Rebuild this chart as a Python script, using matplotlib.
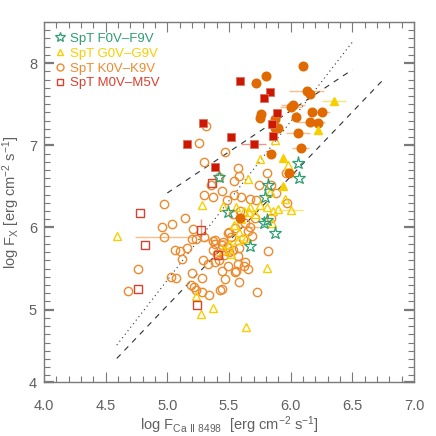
import matplotlib
matplotlib.use("Agg")
import matplotlib.pyplot as plt
import numpy as np
from matplotlib.ticker import MultipleLocator, FixedLocator, FixedFormatter
from matplotlib.lines import Line2D

plt.rcParams['font.family'] = ['Liberation Sans', 'DejaVu Sans']
plt.rcParams['mathtext.default'] = 'regular'

# ---------------- data ----------------
# F stars (open stars)
f_x = [6.06, 6.07, 5.42, 5.82, 5.79, 5.49, 5.78, 5.87, 5.67, 5.81]
f_y = [6.78, 6.60, 6.61, 6.52, 6.37, 6.19, 6.05, 5.93, 5.77, 6.09]

# G stars filled / open triangles
g_fill_x = [6.35, 6.22, 5.94, 5.94]
g_fill_y = [7.54, 7.18, 6.85, 6.51]
g_fill_xerr = [0.10, 0.0, 0.0, 0.0]
g_open_x = [5.87, 5.75, 5.98, 5.65, 5.83, 5.95, 5.56, 5.67, 5.75, 5.81, 5.90, 6.00,
            5.66, 5.86, 5.85, 5.28, 5.45, 5.81, 5.64, 5.54, 4.59, 5.23, 5.27, 5.37,
            5.64, 5.50, 5.57, 5.45, 5.60, 5.71, 5.62, 5.52, 5.58]
g_open_y = [7.06, 6.83, 6.76, 6.59, 6.43, 6.35, 6.25, 6.25, 6.27, 6.25, 6.22, 6.21,
            6.19, 6.20, 6.05, 6.27, 6.26, 5.51, 5.87, 6.03, 5.90, 5.17, 4.95, 5.02,
            4.79, 5.80, 5.85, 5.72, 6.10, 6.17, 6.20, 5.68, 5.95]
g_open_xerr = [0.0, 0.0, 0.0, 0.0, 0.0, 0.0, 0.0, 0.0, 0.0, 0.0, 0.0, 0.10,
               0.0, 0.0, 0.0, 0.0, 0.0, 0.0, 0.0, 0.0, 0.0, 0.0, 0.0, 0.0,
               0.0, 0.10, 0.08, 0.0, 0.0, 0.0, 0.0, 0.0, 0.0]

# K stars filled / open circles
k_fill_x = [6.10, 5.80, 5.72, 6.13, 6.16, 6.02, 6.00, 6.17, 6.25, 5.76, 5.75, 6.04,
            5.87, 6.16, 6.22, 5.87, 5.90, 6.06, 6.08, 5.84, 5.99, 5.59]
k_fill_y = [7.96, 7.84, 7.76, 7.66, 7.62, 7.49, 7.46, 7.40, 7.40, 7.38, 7.33, 7.34,
            7.32, 7.28, 7.27, 7.21, 7.21, 7.15, 6.97, 6.90, 6.66, 6.12]
k_fill_xerr = [0.0, 0.0, 0.0, 0.14, 0.0, 0.10, 0.09, 0.0, 0.07, 0.0, 0.0, 0.0,
               0.0, 0.12, 0.0, 0.0, 0.0, 0.10, 0.07, 0.0, 0.05, 0.0]
k_open_x = [5.26, 5.31, 5.47, 5.30, 5.57, 5.58, 5.54, 5.81, 5.96, 5.74, 5.84, 5.42,
            5.54, 4.97, 5.14, 5.04, 4.96, 5.21, 4.97, 5.20, 5.23, 5.30, 5.37, 5.39,
            5.16, 5.06, 5.10, 5.12, 5.37, 5.44, 5.42, 4.76, 5.44, 5.47, 5.55, 5.20,
            5.28, 5.03, 5.07, 5.19, 5.22, 5.23, 5.28, 5.34, 5.44, 4.68, 5.57, 5.30,
            5.60, 5.67, 5.72, 5.48, 5.37, 5.71, 5.84, 5.63, 5.67, 5.49, 5.52, 5.61,
            5.39, 5.58, 5.82, 5.39, 5.62, 5.56, 5.43, 5.73, 5.45, 5.48, 5.50, 5.53,
            5.46, 5.40, 5.50, 5.55, 5.65, 5.69, 5.59, 5.53, 5.88, 5.97, 5.35, 5.44,
            5.63, 5.65, 5.57, 5.29, 5.33, 5.58, 5.49]
k_open_y = [7.03, 7.24, 6.92, 6.80, 6.72, 6.63, 6.56, 6.66, 6.66, 6.52, 6.52, 6.61,
            6.39, 6.28, 6.12, 6.04, 6.01, 5.98, 5.88, 5.86, 5.86, 5.88, 5.84, 5.80,
            5.75, 5.73, 5.71, 5.62, 5.73, 5.79, 5.60, 5.49, 5.47, 5.37, 5.46, 5.45,
            5.39, 5.40, 5.39, 5.30, 5.28, 5.24, 5.21, 5.18, 5.25, 5.23, 5.65, 6.39,
            6.37, 6.35, 6.34, 6.33, 6.37, 6.12, 6.12, 6.05, 6.01, 5.93, 5.89, 5.86,
            5.85, 5.75, 5.71, 5.58, 5.53, 5.47, 5.24, 5.21, 5.82, 5.76, 5.70, 5.72,
            5.66, 5.68, 5.95, 5.99, 5.96, 5.90, 6.20, 6.16, 6.42, 6.30, 6.52, 6.44,
            5.58, 5.50, 5.55, 5.60, 5.55, 5.34, 5.53]
k_open_xerr = [0.0] * len(k_open_x)
k_open_xerr[18] = 0.23
k_open_xerr[56] = 0.08
k_open_xerr[60] = 0.09
k_open_xerr[72] = 0.08

# M stars filled / open squares
m_fill_x = [5.59, 5.835, 5.78, 5.89, 5.85, 5.29, 5.52, 5.86, 5.70, 5.16, 5.39]
m_fill_y = [7.78, 7.65, 7.57, 7.39, 7.26, 7.27, 7.10, 7.11, 7.01, 7.02, 6.74]
m_fill_xerr = [0.0, 0.0, 0.0, 0.0, 0.0, 0.0, 0.0, 0.0, 0.10, 0.0, 0.0]
m_open_x = [5.36, 4.78, 5.27, 4.82, 5.41, 4.76, 5.24]
m_open_y = [6.54, 6.18, 5.97, 5.79, 5.67, 5.25, 5.06]
m_open_yerr = [0.0, 0.0, 0.13, 0.0, 0.0, 0.0, 0.0]

# relations (slope, intercept, x-range)
dot_fit = (1.93, -4.29, 4.59, 6.50)
dash_up = (1.00, 1.42, 5.00, 6.50)
dash_lo = (1.57, -2.80, 4.59, 6.75)

legend_labels = ['SpT F0V–F9V', 'SpT G0V–G9V', 'SpT K0V–K9V', 'SpT M0V–M5V']

# ---------------- style ----------------
c_f = '#2f9e72'
c_g = '#f7cf00'
c_k_fill = '#e06a00'
c_k_open = '#ee8a2e'
c_m_fill = '#cc1800'
c_m_open = '#d9402e'
grey = '#7a7a7a'
txt = '#606060'

fig = plt.figure(figsize=(4.36, 4.36), dpi=100)
ax = fig.add_axes([44/436, 1-382/436, 370/436, 360/436])

# relation lines
for (s, b, x0, x1), ls in [(dot_fit, (0, (1, 3))), (dash_up, (0, (5, 5))), (dash_lo, (0, (5, 5)))]:
    xx = np.array([x0, x1])
    ax.plot(xx, s * xx + b, color='#303030', lw=0.8, linestyle=ls, zorder=1)

ekw = dict(elinewidth=1.0, capsize=0, linestyle='none', zorder=2)

def plot_set(x, y, marker, ms, fc, ec, ecol, xerr=None, yerr=None, mew=1.0, z=3):
    if xerr is not None or yerr is not None:
        ax.errorbar(x, y, xerr=xerr, yerr=yerr, fmt='none', ecolor=ecol, alpha=0.55, **ekw)
    ax.plot(x, y, linestyle='none', marker=marker, ms=ms, mfc=fc, mec=ec, mew=mew, zorder=z)

plot_set(k_open_x, k_open_y, 'o', 6.0, 'none', c_k_open, c_k_open, xerr=k_open_xerr, z=3)
plot_set(g_open_x, g_open_y, '^', 6.4, 'none', c_g, c_g, xerr=g_open_xerr, z=3)
plot_set(m_open_x, m_open_y, 's', 5.4, 'none', c_m_open, c_m_open, yerr=m_open_yerr, z=3)
plot_set(f_x, f_y, '*', 9.5, 'none', c_f, c_f, mew=0.9, z=4)
plot_set(k_fill_x, k_fill_y, 'o', 6.2, c_k_fill, c_k_fill, c_k_open, xerr=k_fill_xerr, z=5)
plot_set(g_fill_x, g_fill_y, '^', 6.4, c_g, c_g, c_g, xerr=g_fill_xerr, z=5)
plot_set(m_fill_x, m_fill_y, 's', 5.6, c_m_fill, '#e07060', c_m_open, xerr=m_fill_xerr, mew=0.6, z=6)

ax.set_xlim(4.0, 7.0)
ax.set_ylim(4.12, 8.5)

ax.xaxis.set_major_locator(MultipleLocator(0.5))
ax.xaxis.set_minor_locator(MultipleLocator(0.1))
ax.xaxis.set_major_formatter(plt.FuncFormatter(lambda v, p: f'{v:.1f}'))
ax.yaxis.set_major_locator(FixedLocator([4.12, 5, 6, 7, 8]))
ax.yaxis.set_major_formatter(FixedFormatter(['4', '5', '6', '7', '8']))
ax.yaxis.set_minor_locator(MultipleLocator(0.1))

ax.tick_params(which='both', direction='in', top=True, right=True, colors=grey,
               labelcolor=txt, labelsize=10.5)
ax.tick_params(which='major', length=7, width=1.6)
ax.tick_params(which='minor', length=4, width=0.8)
ax.tick_params(axis='x', which='major', width=0.8, length=7, pad=12)
ax.tick_params(axis='y', which='major', pad=5)
for sp in ax.spines.values():
    sp.set_color(grey)
    sp.set_linewidth(1.0)

ax.set_xlabel('log F$_{Ca\\ II\\ 8498}$  [erg cm$^{-2}$ s$^{-1}$]', color=txt, fontsize=10.5, labelpad=1)
ax.set_ylabel('log F$_{X}$ [erg cm$^{-2}$ s$^{-1}$]', color=txt, fontsize=10.5, labelpad=5)

handles = [
    Line2D([], [], linestyle='none', marker='*', ms=7, mfc='none', mec=c_f, mew=0.9),
    Line2D([], [], linestyle='none', marker='^', ms=5, mfc='none', mec=c_g),
    Line2D([], [], linestyle='none', marker='o', ms=5, mfc='none', mec=c_k_open),
    Line2D([], [], linestyle='none', marker='s', ms=5, mfc='none', mec=c_m_open),
]
leg = ax.legend(handles, legend_labels, loc='upper left', frameon=False, fontsize=9.5,
                handlelength=0.8, handletextpad=0.4, labelspacing=0.2,
                borderaxespad=0.6, borderpad=0.2)
for t, c in zip(leg.get_texts(), [c_f, c_g, c_k_open, c_m_open]):
    t.set_color(c)

fig.savefig('out.png', dpi=100)
